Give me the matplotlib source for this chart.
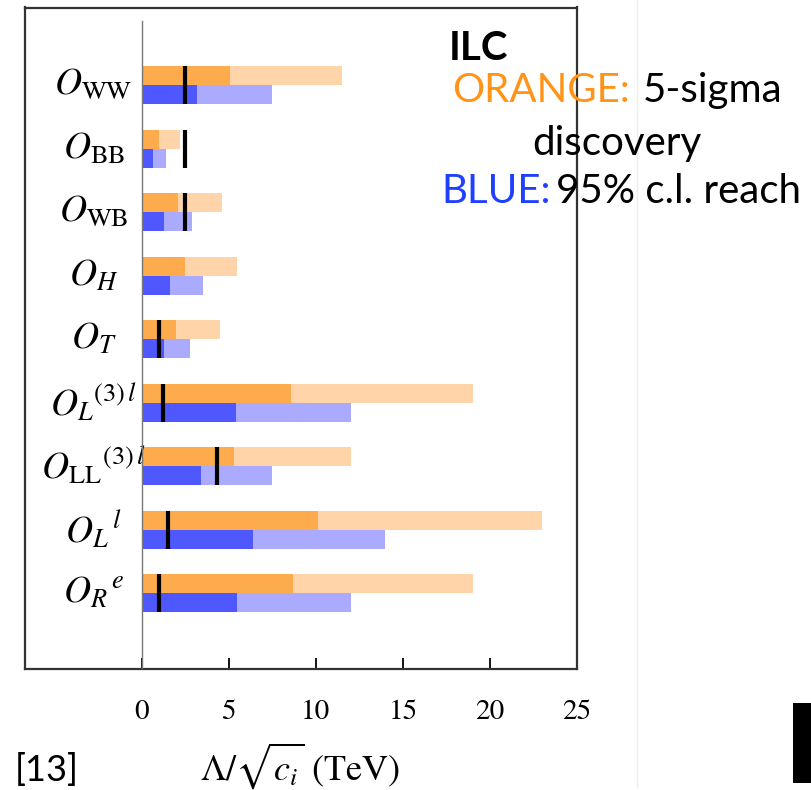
import numpy as np
import matplotlib
matplotlib.use("Agg")
import matplotlib.pyplot as plt
from matplotlib.patches import Rectangle
from matplotlib.lines import Line2D

plt.rcParams['mathtext.fontset'] = 'stix'

labels = [r'$O_{\rm WW}$', r'$O_{\rm BB}$', r'$O_{\rm WB}$', r'$O_H$', r'$O_T$',
          r'${O_L}^{(3)\,l}$', r'${O_{\rm LL}}^{(3)\,l}$', r'${O_L}^{\,l}$', r'${O_R}^{\,e}$']
orange_dark = [5.1, 1.0, 2.1, 2.5, 2.0, 8.6, 5.3, 10.1, 8.7]
orange_light = [11.5, 2.2, 4.6, 5.5, 4.5, 19.0, 12.0, 23.0, 19.0]
blue_dark = [3.2, 0.65, 1.3, 1.6, 1.3, 5.4, 3.4, 6.4, 5.5]
blue_light = [7.5, 1.4, 2.9, 3.5, 2.8, 12.0, 7.5, 14.0, 12.0]
marker = [2.5, 2.5, 2.5, np.nan, 1.0, 1.2, 4.3, 1.5, 1.0]
xticks = [0, 5, 10, 15, 20, 25]

C_OR_D = '#FEAB4D'
C_OR_L = '#FFD4A8'
C_BL_D = '#4F58FF'
C_BL_L = '#AAABFF'

fig = plt.figure(figsize=(8.11, 7.90), dpi=100)
ax = fig.add_axes([25/811, 1-669/790, (577-25)/811, (669-7.5)/790])

y = np.arange(len(labels))
h = 0.30
ax.barh(y - h/2, orange_light, height=h, color=C_OR_L, edgecolor='none')
ax.barh(y - h/2, orange_dark, height=h, color=C_OR_D, edgecolor='none')
ax.barh(y + h/2, blue_light, height=h, color=C_BL_L, edgecolor='none')
ax.barh(y + h/2, blue_dark, height=h, color=C_BL_D, edgecolor='none')

for i, m in enumerate(marker):
    if not np.isnan(m):
        ax.plot([m, m], [i - h, i + h], color='black', lw=3.0, solid_capstyle='butt', zorder=5)

ax.plot([0, 0], [-1.0, 9.25], color='#777777', lw=1.0, zorder=4)

for i, lab in enumerate(labels):
    ax.text(-2.76, i, lab, ha='center', va='center', fontsize=27, color='black')

ax.set_xlim(-6.7, 25)
ax.set_ylim(9.19, -1.22)
ax.set_yticks([])
ax.set_xticks(xticks)
ax.set_xticklabels([str(t) for t in xticks], fontfamily='STIXGeneral', fontsize=21)
ax.tick_params(axis='x', direction='in', length=8, width=1.3, pad=22, colors='black')
for s in ax.spines.values():
    s.set_linewidth(1.6)
    s.set_color('#333333')

fig.text(300/811, 1-780/790, r'$\Lambda/\sqrt{c_i}$ (TeV)', fontfamily='STIXGeneral',
         fontsize=26, ha='center', va='baseline')
fig.text(15/811, 1-781/790, '[13]', fontfamily='Lato', fontsize=26, ha='left', va='baseline')

sans = 'Lato'
fs = 29
fig.text(449/811, 1-60/790, 'ILC', fontfamily=sans, fontweight='bold', fontsize=fs, color='black', ha='left', va='baseline')
fig.text(452/811, 1-102/790, 'ORANGE:', fontfamily=sans, fontsize=fs, color='#FF9418', ha='left', va='baseline')
fig.text(782/811, 1-102/790, '5-sigma', fontfamily=sans, fontsize=fs, color='black', ha='right', va='baseline')
fig.text(617/811, 1-155/790, 'discovery', fontfamily=sans, fontsize=fs, color='black', ha='center', va='baseline')
fig.text(441/811, 1-203/790, 'BLUE:', fontfamily=sans, fontsize=fs, color='#2040FF', ha='left', va='baseline')
fig.text(556/811, 1-203/790, '95% c.l. reach', fontfamily=sans, fontsize=fs, color='black', ha='left', va='baseline')

fig.add_artist(Line2D([637/811, 637/811], [1-787/790, 1.0], color='#EEEEEE', lw=1.0))
fig.add_artist(Rectangle((793/811, 1-783/790), 18/811, 80/790, facecolor='black', edgecolor='none'))

fig.savefig('out.png', dpi=100)
